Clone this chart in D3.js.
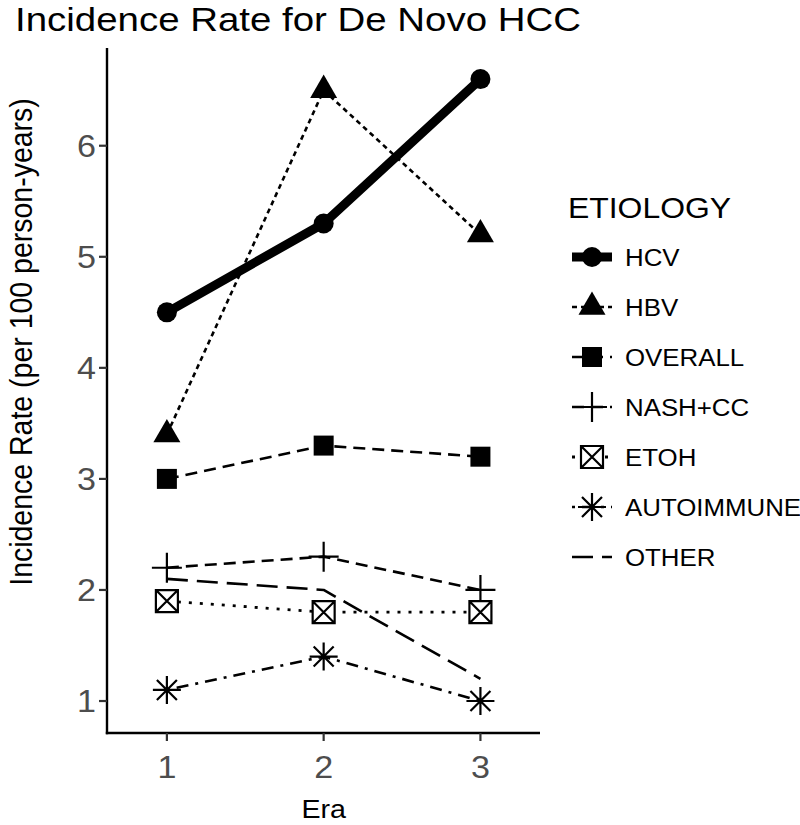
<!DOCTYPE html>
<html>
<head>
<meta charset="utf-8">
<script src="https://cdn.jsdelivr.net/npm/d3@7/dist/d3.min.js"></script>
<style>
  html, body { margin: 0; padding: 0; background: #ffffff; }
  svg { display: block; font-family: "Liberation Sans", Arial, Helvetica, sans-serif; }
</style>
</head>
<body>
<svg id="chart" width="800" height="825"></svg>
<script>
// ---- data ----
const eras = [1, 2, 3];
const yTicks = [1, 2, 3, 4, 5, 6];
const seriesNames = ["HCV", "HBV", "OVERALL", "NASH+CC", "ETOH", "AUTOIMMUNE", "OTHER"];
const hcv = [4.5, 5.3, 6.6];
const hbv = [3.4, 6.5, 5.2];
const overall = [3.0, 3.3, 3.2];
const nash = [2.2, 2.3, 2.0];
const etoh = [1.9, 1.8, 1.8];
const autoimmune = [1.1, 1.4, 1.0];
const other = [2.1, 2.0, 1.2];
const titleText = "Incidence Rate for De Novo HCC";
const xTitle = "Era";
const yTitle = "Incidence Rate (per 100 person-years)";
const legendTitle = "ETIOLOGY";

const valuesByName = {
  "HCV": hcv, "HBV": hbv, "OVERALL": overall, "NASH+CC": nash,
  "ETOH": etoh, "AUTOIMMUNE": autoimmune, "OTHER": other
};

// styles
const styles = {
  "HCV":        { width: 9,   dash: null,          shape: "circle" },
  "HBV":        { width: 2.6, dash: "5,4",         shape: "triangle" },
  "OVERALL":    { width: 2.6, dash: "12,7",        shape: "square" },
  "NASH+CC":    { width: 2.6, dash: "12,7",        shape: "plus" },
  "ETOH":       { width: 2.8, dash: "3,8",         shape: "boxcross" },
  "AUTOIMMUNE": { width: 2.6, dash: "3,7,12,7",    shape: "asterisk" },
  "OTHER":      { width: 2.6, dash: "21,9",        shape: null }
};

const svg = d3.select("#chart");
const SX = 1.1; // horizontal stretch of text in reference

const panel = { left: 107, right: 540, top: 48, bottom: 733 };
const x = d3.scaleLinear().domain([0.618, 3.38]).range([panel.left, panel.right]);
const y = d3.scaleLinear().domain([0.712, 6.88]).range([panel.bottom, panel.top]);

function stretchedText(g, tx, ty, txt, opts) {
  const t = g.append("text")
    .attr("transform", `translate(${tx},${ty}) scale(${opts.sx || SX},1)`)
    .attr("text-anchor", opts.anchor || "start")
    .attr("font-size", opts.size)
    .attr("fill", opts.fill || "#000")
    .text(txt);
  return t;
}

// title
stretchedText(svg, 15, 30.5, titleText, { size: 33, sx: 1.165 });

// lines
const line = d3.line().x((d, i) => x(eras[i])).y(d => y(d));
const linesG = svg.append("g");
seriesNames.forEach(name => {
  const st = styles[name];
  linesG.append("path")
    .datum(valuesByName[name])
    .attr("d", line)
    .attr("fill", "none")
    .attr("stroke", "#000")
    .attr("stroke-width", st.width)
    .attr("stroke-dasharray", st.dash)
    .attr("stroke-linecap", "butt")
    .attr("stroke-linejoin", "round");
});

// marker drawing
function drawMarker(g, shape, cx, cy) {
  if (!shape) return;
  if (shape === "circle") {
    g.append("path").attr("transform", `translate(${cx},${cy})`)
      .attr("d", d3.symbol(d3.symbolCircle, Math.PI * 10 * 10)()).attr("fill", "#000");
  } else if (shape === "triangle") {
    g.append("path").attr("transform", `translate(${cx},${cy})`)
      .attr("d", d3.symbol(d3.symbolTriangle, 0.433 * 27 * 27)()).attr("fill", "#000");
  } else if (shape === "square") {
    g.append("path").attr("transform", `translate(${cx},${cy})`)
      .attr("d", d3.symbol(d3.symbolSquare, 20 * 20)()).attr("fill", "#000");
  } else if (shape === "plus") {
    const h = 15;
    g.append("path")
      .attr("d", `M${cx - h},${cy}H${cx + h}M${cx},${cy - h}V${cy + h}`)
      .attr("stroke", "#000").attr("stroke-width", 2.2).attr("fill", "none");
  } else if (shape === "boxcross") {
    const h = 11;
    g.append("path")
      .attr("d", `M${cx - h},${cy - h}H${cx + h}V${cy + h}H${cx - h}Z M${cx - h},${cy - h}L${cx + h},${cy + h}M${cx + h},${cy - h}L${cx - h},${cy + h}`)
      .attr("stroke", "#000").attr("stroke-width", 2.2).attr("fill", "#fff");
  } else if (shape === "asterisk") {
    const h = 14, d = 10;
    g.append("path")
      .attr("d", `M${cx - h},${cy}H${cx + h}M${cx},${cy - h}V${cy + h}M${cx - d},${cy - d}L${cx + d},${cy + d}M${cx + d},${cy - d}L${cx - d},${cy + d}`)
      .attr("stroke", "#000").attr("stroke-width", 2.2).attr("fill", "none");
  }
}

const ptsG = svg.append("g");
seriesNames.forEach(name => {
  valuesByName[name].forEach((v, i) => drawMarker(ptsG, styles[name].shape, x(eras[i]), y(v)));
});

// axes
const axG = svg.append("g");
axG.append("line").attr("x1", panel.left).attr("x2", panel.left)
  .attr("y1", panel.top).attr("y2", panel.bottom + 1.2)
  .attr("stroke", "#000").attr("stroke-width", 2.4);
axG.append("line").attr("x1", panel.left - 1.2).attr("x2", panel.right)
  .attr("y1", panel.bottom).attr("y2", panel.bottom)
  .attr("stroke", "#000").attr("stroke-width", 2.4);

yTicks.forEach(t => {
  axG.append("line").attr("x1", panel.left - 8).attr("x2", panel.left)
    .attr("y1", y(t)).attr("y2", y(t)).attr("stroke", "#333").attr("stroke-width", 2.2);
  stretchedText(axG, panel.left - 11, y(t) + 11, String(t), { size: 31, anchor: "end", fill: "#4d4d4d" });
});
eras.forEach(t => {
  axG.append("line").attr("x1", x(t)).attr("x2", x(t))
    .attr("y1", panel.bottom).attr("y2", panel.bottom + 8).attr("stroke", "#333").attr("stroke-width", 2.2);
  stretchedText(axG, x(t), 778, String(t), { size: 31, anchor: "middle", fill: "#4d4d4d" });
});

// axis titles
stretchedText(svg, (x(1) + x(3)) / 2, 818, xTitle, { size: 26, anchor: "middle" });
svg.append("text")
  .attr("transform", `translate(32,342) rotate(-90) scale(1,${SX})`)
  .attr("text-anchor", "middle")
  .attr("font-size", 28.5)
  .attr("fill", "#000")
  .text(yTitle);

// legend
const lg = svg.append("g");
stretchedText(lg, 568, 218, legendTitle, { size: 29 });
const rowY = d3.scaleLinear().domain([0, 6]).range([257, 557]);
seriesNames.forEach((name, i) => {
  const cy = rowY(i);
  const st = styles[name];
  lg.append("line").attr("x1", 572).attr("x2", 612).attr("y1", cy).attr("y2", cy)
    .attr("stroke", "#000").attr("stroke-width", st.width)
    .attr("stroke-dasharray", st.dash).attr("stroke-linecap", "butt");
  drawMarker(lg, st.shape, 592, cy);
  stretchedText(lg, 625, cy + 8.5, name, { size: 23.5 });
});
</script>
</body>
</html>
